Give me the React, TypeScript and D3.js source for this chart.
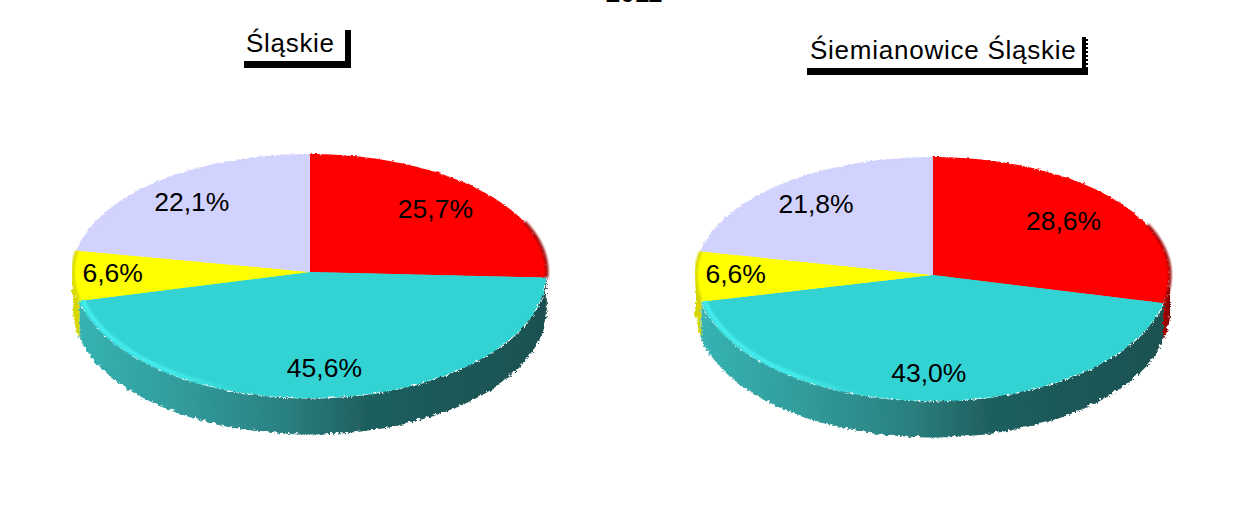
import React from "react";
import * as d3 from "d3";

const sliceColors = ["#ff0000", "#33d3d3", "#ffff00", "#d2d2ff"];
const leftValues = [25.7, 45.6, 6.6, 22.1];
const rightValues = [28.6, 43.0, 6.6, 21.8];
const leftLabels = ["25,7%", "45,6%", "6,6%", "22,1%"];
const rightLabels = ["28,6%", "43,0%", "6,6%", "21,8%"];
const leftLabelRadius = [0.75, 0.78, 0.82, 0.76];
const rightLabelRadius = [0.72, 0.79, 0.82, 0.76];
const FONT = "'Liberation Sans', Arial, sans-serif";

type PieProps = { id: string; values: number[]; labels: string[]; labelRadius: number[]; cx: number; cy: number };

function Pie3D({ id, values, labels, labelRadius, cx, cy }: PieProps) {
  const rx = 237, ryTop = 118, ryBottom = 126, depth = 36;
  const x = d3.scaleLinear().domain([-1, 1]).range([cx - rx, cx + rx]);
  const pt = (a: number, r = 1): [number, number] => {
    const c = Math.cos(a);
    const ry = c > 0 ? ryTop : ryBottom;
    return [x(r * Math.sin(a)), cy - r * ry * c];
  };
  const arcs = d3.pie<number>().sort(null).value((d) => d)(values);
  const line = d3.line();
  const samples = (a0: number, a1: number) => {
    const n = Math.max(2, Math.ceil(((a1 - a0) / (Math.PI * 2)) * 240));
    return d3.range(n + 1).map((i) => a0 + ((a1 - a0) * i) / n);
  };
  const facePath = (a0: number, a1: number) =>
    line([[cx, cy], ...samples(a0, a1).map((a) => pt(a))])! + "Z";
  const sidePath = (a0: number, a1: number) => {
    const top = samples(a0, a1).map((a) => pt(a));
    const bottom = top.slice().reverse().map(([px, py]) => [px, py + depth] as [number, number]);
    return line([...top, ...bottom])! + "Z";
  };
  const hp = Math.PI / 2;
  const sideFill = [`url(#${id}-red)`, `url(#${id}-teal)`, "#d6d600", "#b0b0d8"];
  const cyan = arcs[1];
  const red = arcs[0];
  const yellow = arcs[2];
  return (
    <g>
      <defs>
        <linearGradient id={`${id}-teal`} gradientUnits="userSpaceOnUse" x1={cx - rx} x2={cx + rx} y1={0} y2={0}>
          <stop offset="0" stopColor="#37b4b4" />
          <stop offset="0.22" stopColor="#319c9c" />
          <stop offset="0.45" stopColor="#2b8080" />
          <stop offset="0.62" stopColor="#1f5f5f" />
          <stop offset="1" stopColor="#1b5050" />
        </linearGradient>
        <linearGradient id={`${id}-red`} gradientUnits="userSpaceOnUse" x1={cx + rx - 12} x2={cx + rx} y1={0} y2={0}>
          <stop offset="0" stopColor="#d80000" />
          <stop offset="1" stopColor="#800000" />
        </linearGradient>
        <linearGradient id={`${id}-shine`} gradientUnits="userSpaceOnUse" x1={cx - rx} x2={cx - 70} y1={0} y2={0}>
          <stop offset="0" stopColor="#48f0f0" stopOpacity="1" />
          <stop offset="0.6" stopColor="#48f0f0" stopOpacity="0.85" />
          <stop offset="1" stopColor="#48f0f0" stopOpacity="0" />
        </linearGradient>
      </defs>
      <g filter="url(#rough)" transform="translate(-2 -1.5)">
        {arcs.map((d, i) => {
          const a0 = Math.max(d.startAngle, hp);
          const a1 = Math.min(d.endAngle, 3 * hp);
          return a1 > a0 ? <path key={i} d={sidePath(a0, a1)} fill={sideFill[i]} /> : null;
        })}
      </g>
      <g filter="url(#roughFine)" transform="translate(-1.5 -1)">
        {arcs.map((d, i) => (
          <path key={i} d={facePath(d.startAngle, d.endAngle)} fill={sliceColors[i]} />
        ))}
      </g>
      <path
        d={line(samples(hp * 0.72, red.endAngle).map((a) => pt(a)))!}
        fill="none"
        stroke="#a00000"
        strokeWidth={3}
        filter="url(#soft)"
      />
      <path
        d={line(samples(yellow.startAngle, yellow.endAngle).map((a) => pt(a)))!}
        fill="none"
        stroke="#d6d600"
        strokeWidth={3}
        filter="url(#soft)"
      />
      {arcs.map((d, i) => (
        <path key={i} d={facePath(d.startAngle, d.endAngle)} fill={sliceColors[i]} transform={`translate(${cx} ${cy}) scale(0.985) translate(${-cx} ${-cy})`} />
      ))}
      <path
        d={line(samples(Math.PI * 1.05, cyan.endAngle).map((a) => pt(a, 0.985)))!}
        fill="none"
        stroke={`url(#${id}-shine)`}
        strokeWidth={4}
        filter="url(#soft)"
      />
      {arcs.map((d, i) => {
        const [lx, ly] = pt((d.startAngle + d.endAngle) / 2, labelRadius[i]);
        return (
          <text key={i} x={lx - 3} y={ly - 1.5} textAnchor="middle" dominantBaseline="central" fontFamily={FONT} fontSize={26.5} fill="#000">
            {labels[i]}
          </text>
        );
      })}
    </g>
  );
}

function TitleBox({ text, x0, x1, y0, y1, tx, ty, size, spacing, teeth }: { text: string; x0: number; x1: number; y0: number; y1: number; tx: number; ty: number; size: number; spacing: number; teeth?: boolean }) {
  return (
    <g>
      <path d={`M${x1 - 6} ${y0}H${x1}V${y1}H${x0}V${y1 - 7}H${x1 - 6}Z`} fill="#000" />
      {teeth && <line x1={x1 - 1} x2={x1 - 1} y1={y0} y2={y1 - 7} stroke="#fff" strokeWidth={2} strokeDasharray="2 2" />}
      <text x={tx} y={ty} fontFamily={FONT} fontSize={size} letterSpacing={spacing} fill="#000">{text}</text>
    </g>
  );
}

export default function App() {
  return (
    <svg width={1256} height={518} style={{ position: "absolute", left: 0, top: 0, background: "#ffffff" }}>
      <defs>
        <filter id="rough" x="-5%" y="-5%" width="110%" height="110%">
          <feTurbulence type="turbulence" baseFrequency="0.22" numOctaves="1" seed="3" result="n" />
          <feDisplacementMap in="SourceGraphic" in2="n" scale="5" xChannelSelector="R" yChannelSelector="G" />
        </filter>
        <filter id="roughFine" x="-5%" y="-5%" width="110%" height="110%">
          <feTurbulence type="turbulence" baseFrequency="0.25" numOctaves="1" seed="7" result="n" />
          <feDisplacementMap in="SourceGraphic" in2="n" scale="3" xChannelSelector="R" yChannelSelector="G" />
        </filter>
        <filter id="soft"><feGaussianBlur stdDeviation="0.8" /></filter>
      </defs>
      <text x={634} y={1.5} textAnchor="middle" fontFamily={FONT} fontWeight="bold" fontSize={26} fill="#000">2011</text>
      <TitleBox text="Śląskie" x0={244} x1={351} y0={30} y1={68} tx={246} ty={52} size={26} spacing={0.7} />
      <TitleBox text="Śiemianowice Śląskie" x0={807} x1={1088} y0={37} y1={75} tx={810} ty={59} size={26} spacing={0.75} teeth />
      <Pie3D id="l" values={leftValues} labels={leftLabels} labelRadius={leftLabelRadius} cx={310} cy={272} />
      <Pie3D id="r" values={rightValues} labels={rightLabels} labelRadius={rightLabelRadius} cx={933} cy={275} />
    </svg>
  );
}
